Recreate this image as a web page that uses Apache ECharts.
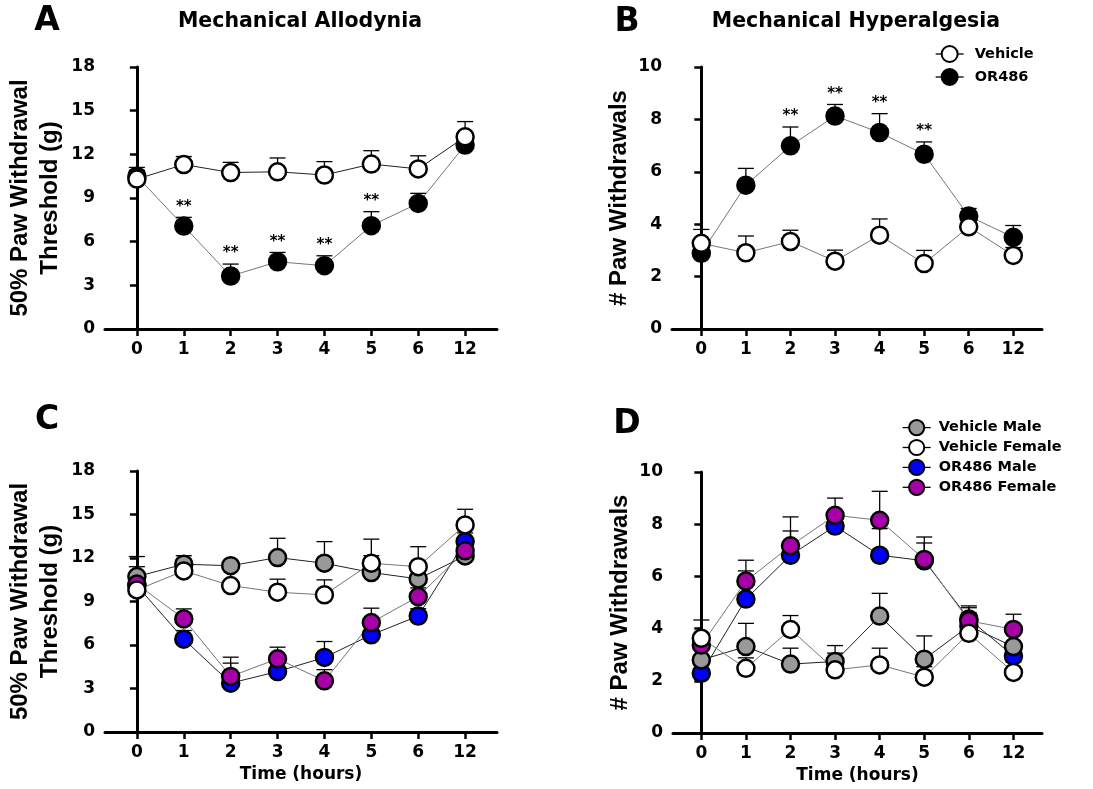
<!DOCTYPE html>
<html>
<head>
<meta charset="utf-8">
<script src="https://cdn.jsdelivr.net/npm/echarts@6/dist/echarts.min.js"></script>
<style>
html,body{margin:0;padding:0;background:#fff;}
#c{width:1093px;height:789px;}
</style>
</head>
<body>
<div id="c"></div>
<script>
// ---------- data ----------
const xTicks = ['0', '1', '2', '3', '4', '5', '6', '12'];

// Panel A: Mechanical Allodynia (50% paw withdrawal threshold, g)
const aVehicle    = [10.3, 11.3, 10.75, 10.8, 10.58, 11.33, 11.0, 13.2];
const aVehicleSem = [0.8, 0.55, 0.7, 0.95, 0.92, 0.92, 0.9, 1.05];
const aOR486      = [10.5, 7.07, 3.64, 4.62, 4.35, 7.1, 8.63, 12.64];
const aOR486Sem   = [0.4, 0.6, 0.82, 0.64, 0.68, 0.96, 0.69, 0.4];
const aSig        = [0, 1, 1, 1, 1, 1, 0, 0];

// Panel B: Mechanical Hyperalgesia (# paw withdrawals)
const bVehicle    = [3.27, 2.91, 3.34, 2.59, 3.58, 2.5, 3.9, 2.81];
const bVehicleSem = [0.53, 0.64, 0.43, 0.42, 0.62, 0.5, 0.2, 0.3];
const bOR486      = [2.89, 5.49, 6.99, 8.13, 7.5, 6.67, 4.31, 3.5];
const bOR486Sem   = [0.3, 0.64, 0.72, 0.44, 0.72, 0.47, 0.29, 0.45];
const bSig        = [0, 0, 1, 1, 1, 1, 0, 0];

// Panel C: allodynia by sex
const cVehMale      = [10.72, 11.57, 11.47, 12.03, 11.64, 11.0, 10.56, 12.14];
const cVehMaleSem   = [1.38, 0.59, 0.3, 1.33, 1.49, 2.3, 0.7, 0.4];
const cVehFemale    = [9.8, 11.11, 10.1, 9.64, 9.46, 11.64, 11.4, 14.28];
const cVehFemaleSem = [1.6, 0.8, 1.1, 0.9, 1.03, 0.52, 1.38, 1.08];
const cORMale       = [10.1, 6.4, 3.37, 4.17, 5.14, 6.7, 8.0, 13.13];
const cORMaleSem    = [0.6, 0.6, 1.38, 0.6, 1.1, 0.6, 0.5, 0.6];
const cORFemale     = [10.2, 7.8, 3.83, 5.05, 3.53, 7.55, 9.34, 12.5];
const cORFemaleSem  = [0.6, 0.69, 1.33, 0.8, 0.77, 0.99, 0.6, 0.6];

// Panel D: hyperalgesia by sex
const dVehMale      = [2.8, 3.31, 2.64, 2.74, 4.48, 2.83, 4.1, 3.31];
const dVehMaleSem   = [0.4, 0.89, 0.61, 0.61, 0.87, 0.89, 0.5, 0.5];
const dVehFemale    = [3.63, 2.48, 3.97, 2.42, 2.61, 2.14, 3.82, 2.32];
const dVehFemaleSem = [0.7, 0.4, 0.53, 0.64, 0.64, 0.4, 0.4, 0.4];
const dORMale       = [2.29, 5.13, 6.81, 7.93, 6.81, 6.6, 4.37, 2.95];
const dORMaleSem    = [0.3, 1.08, 0.93, 0.4, 1.02, 0.68, 0.5, 0.4];
const dORFemale     = [3.37, 5.82, 7.17, 8.34, 8.15, 6.65, 4.3, 3.97];
const dORFemaleSem  = [0.4, 0.8, 1.11, 0.66, 1.11, 0.86, 0.5, 0.58];

// ---------- helpers ----------
const HF = 'DejaVu Sans';
const VF = 'Liberation Sans';
const idxs = xTicks.map((_, i) => i);

function pts(vals) { return vals.map((v, i) => [i, v]); }
function errData(vals, sem, sig) {
  return vals.map((v, i) => [i, v, sem[i], sig ? sig[i] : 0]);
}

function xAxisCfg(gi, min, max, name) {
  return {
    type: 'value', gridIndex: gi, min: min, max: max,
    splitLine: { show: false },
    axisLine: { show: true, onZero: false, lineStyle: { color: '#000', width: 3 } },
    axisTick: { show: true, customValues: idxs, length: 7, lineStyle: { color: '#000', width: 2.5 } },
    axisLabel: {
      customValues: idxs, margin: 12,
      formatter: v => xTicks[Math.round(v)],
      fontFamily: HF, fontWeight: 'bold', fontSize: 17, color: '#000'
    },
    name: name || '', nameLocation: 'middle', nameGap: 34,
    nameTextStyle: { fontFamily: HF, fontWeight: 'bold', fontSize: 17, color: '#000' }
  };
}
function yAxisCfg(gi, max, interval, name, gap) {
  return {
    type: 'value', gridIndex: gi, min: 0, max: max, interval: interval,
    splitLine: { show: false },
    axisLine: { show: true, lineStyle: { color: '#000', width: 3 } },
    axisTick: { show: true, length: 7, lineStyle: { color: '#000', width: 2.5 } },
    axisLabel: { margin: 10, fontFamily: HF, fontWeight: 'bold', fontSize: 17, color: '#000' },
    name: name, nameLocation: 'middle', nameRotate: 90, nameGap: gap,
    nameTextStyle: { fontFamily: VF, fontWeight: 'bold', fontSize: 24, color: '#000', lineHeight: 30 }
  };
}
function lineSeries(name, gi, vals, fill, lineColor, z) {
  return {
    type: 'line', name: name, xAxisIndex: gi, yAxisIndex: gi,
    data: pts(vals), symbol: 'circle', symbolSize: 17, z: z,
    itemStyle: { color: fill, borderColor: '#000', borderWidth: 2.5 },
    lineStyle: { color: lineColor, width: 1 },
    emphasis: { disabled: true }, animation: false
  };
}
function errSeries(gi, vals, sem, sig) {
  return {
    type: 'custom', xAxisIndex: gi, yAxisIndex: gi, z: 1, silent: true,
    data: errData(vals, sem, sig), encode: { x: 0, y: 1 },
    renderItem: function (params, api) {
      const x = api.value(0), y = api.value(1), e = api.value(2), s = api.value(3);
      const p = api.coord([x, y]);
      const t = api.coord([x, y + e]);
      const st = { stroke: '#000', lineWidth: 1.3 };
      const children = [
        { type: 'line', shape: { x1: p[0], y1: p[1], x2: t[0], y2: t[1] }, style: st },
        { type: 'line', shape: { x1: t[0] - 8, y1: t[1], x2: t[0] + 8, y2: t[1] }, style: st }
      ];
      if (s) {
        children.push({
          type: 'text',
          style: { text: '**', x: t[0], y: t[1] - 3, textAlign: 'center', textVerticalAlign: 'bottom',
                   font: 'bold 15px "DejaVu Sans"', fill: '#000' }
        });
      }
      return { type: 'group', children: children };
    },
    animation: false
  };
}

const GRAY = '#999999', BLUE = '#0000ff', MAG = '#a800a8', WHITE = '#ffffff';
const DARK = '#222222', LGRAY = '#777777';

const option = {
  animation: false,
  backgroundColor: '#fff',
  grid: [
    { left: 105, top: 67, width: 392, height: 262 },
    { left: 672, top: 67, width: 370, height: 262 },
    { left: 105, top: 471, width: 392, height: 261 },
    { left: 673, top: 472, width: 369, height: 261 }
  ],
  xAxis: [
    xAxisCfg(0, -0.68, 7.68),
    xAxisCfg(1, -0.657, 7.644),
    xAxisCfg(2, -0.68, 7.68, 'Time (hours)'),
    xAxisCfg(3, -0.635, 7.64, 'Time (hours)')
  ],
  yAxis: [
    yAxisCfg(0, 18, 3, '50% Paw Withdrawal\nThreshold (g)', 40),
    yAxisCfg(1, 10, 2, '# Paw Withdrawals', 38),
    yAxisCfg(2, 18, 3, '50% Paw Withdrawal\nThreshold (g)', 40),
    yAxisCfg(3, 10, 2, '# Paw Withdrawals', 38)
  ],
  legend: [
    {
      data: ['Vehicle', 'OR486'], orient: 'vertical', left: 930, top: 40,
      itemWidth: 28, itemHeight: 20, itemGap: 5, selectedMode: false,
      lineStyle: { color: '#000', width: 1.3 },
      textStyle: { fontFamily: HF, fontWeight: 'bold', fontSize: 14.5, color: '#000', padding: [0, 0, 0, 6] }
    },
    {
      data: ['Vehicle Male', 'Vehicle Female', 'OR486 Male', 'OR486 Female'],
      orient: 'vertical', left: 897, top: 414,
      itemWidth: 28, itemHeight: 19, itemGap: 2.7, selectedMode: false,
      lineStyle: { color: '#000', width: 1.3 },
      textStyle: { fontFamily: HF, fontWeight: 'bold', fontSize: 14.5, color: '#000', padding: [0, 0, 0, 3] }
    }
  ],
  graphic: [
    { type: 'text', style: { text: 'A', x: 47, y: 21, textAlign: 'center', textVerticalAlign: 'middle', font: 'bold 33px "DejaVu Sans"', fill: '#000' } },
    { type: 'text', style: { text: 'B', x: 627, y: 22, textAlign: 'center', textVerticalAlign: 'middle', font: 'bold 33px "DejaVu Sans"', fill: '#000' } },
    { type: 'text', style: { text: 'C', x: 47, y: 420, textAlign: 'center', textVerticalAlign: 'middle', font: 'bold 33px "DejaVu Sans"', fill: '#000' } },
    { type: 'text', style: { text: 'D', x: 627, y: 424, textAlign: 'center', textVerticalAlign: 'middle', font: 'bold 33px "DejaVu Sans"', fill: '#000' } },
    { type: 'text', style: { text: 'Mechanical Allodynia', x: 300, y: 22, textAlign: 'center', textVerticalAlign: 'middle', font: 'bold 20.5px "DejaVu Sans"', fill: '#000' } },
    { type: 'text', style: { text: 'Mechanical Hyperalgesia', x: 856, y: 22, textAlign: 'center', textVerticalAlign: 'middle', font: 'bold 20.5px "DejaVu Sans"', fill: '#000' } }
  ],
  series: [
    // A
    errSeries(0, aOR486, aOR486Sem, aSig),
    errSeries(0, aVehicle, aVehicleSem),
    lineSeries('OR486', 0, aOR486, '#000', LGRAY, 2),
    lineSeries('Vehicle', 0, aVehicle, WHITE, DARK, 3),
    // B
    errSeries(1, bOR486, bOR486Sem, bSig),
    errSeries(1, bVehicle, bVehicleSem),
    lineSeries('OR486', 1, bOR486, '#000', LGRAY, 2),
    lineSeries('Vehicle', 1, bVehicle, WHITE, LGRAY, 3),
    // C
    errSeries(2, cORMale, cORMaleSem),
    errSeries(2, cVehMale, cVehMaleSem),
    errSeries(2, cORFemale, cORFemaleSem),
    errSeries(2, cVehFemale, cVehFemaleSem),
    lineSeries('OR486 Male', 2, cORMale, BLUE, DARK, 2),
    lineSeries('Vehicle Male', 2, cVehMale, GRAY, DARK, 2),
    lineSeries('OR486 Female', 2, cORFemale, MAG, LGRAY, 2),
    lineSeries('Vehicle Female', 2, cVehFemale, WHITE, LGRAY, 2),
    // D
    errSeries(3, dORMale, dORMaleSem),
    errSeries(3, dVehMale, dVehMaleSem),
    errSeries(3, dORFemale, dORFemaleSem),
    errSeries(3, dVehFemale, dVehFemaleSem),
    lineSeries('OR486 Male', 3, dORMale, BLUE, DARK, 2),
    lineSeries('Vehicle Male', 3, dVehMale, GRAY, DARK, 2),
    lineSeries('OR486 Female', 3, dORFemale, MAG, LGRAY, 2),
    lineSeries('Vehicle Female', 3, dVehFemale, WHITE, LGRAY, 2)
  ]
};

const chart = echarts.init(document.getElementById('c'), null, { renderer: 'canvas' });
chart.setOption(option);
</script>
</body>
</html>
